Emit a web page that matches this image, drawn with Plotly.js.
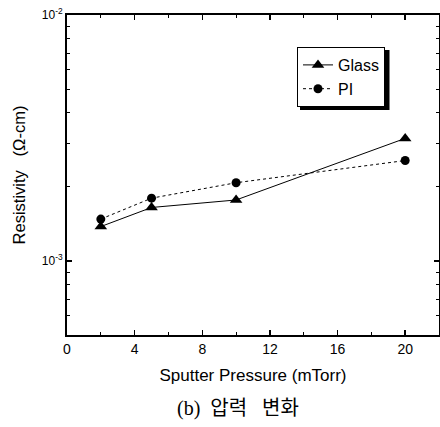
<!DOCTYPE html>
<html>
<head>
<meta charset="utf-8">
<script src="https://cdn.plot.ly/plotly-3.0.1.min.js"></script>
<style>html,body{margin:0;padding:0;background:#fff;}#chart{width:440px;height:427px;}</style>
</head>
<body>
<div id="chart"></div>
<script>
const pressure = [2, 5, 10, 20];
const glassResistivity = [1.38e-3, 1.65e-3, 1.77e-3, 3.15e-3];
const piResistivity = [1.48e-3, 1.80e-3, 2.08e-3, 2.56e-3];
const xTickVals = [0, 4, 8, 12, 16, 20];
const xMinorVals = [2, 6, 10, 14, 18];
const yTickVals = [1e-3, 1e-2];
const yTickText = ['10<sup>-3</sup>', '10<sup>-2</sup>'];
const yMinorVals = [5e-4, 6e-4, 7e-4, 8e-4, 9e-4, 2e-3, 3e-3, 4e-3, 5e-3, 6e-3, 7e-3, 8e-3, 9e-3];

const font = 'Liberation Sans, Arial, sans-serif';

const traces = [
  {x: pressure, y: glassResistivity, name: 'Glass', mode: 'lines+markers', type: 'scatter',
   line: {color: '#000', width: 1}, marker: {symbol: 'triangle-up', size: 11, color: '#000'}},
  {x: pressure, y: piResistivity, name: 'PI', mode: 'lines+markers', type: 'scatter',
   line: {color: '#000', width: 1, dash: '3px,3px'}, marker: {symbol: 'circle', size: 9, color: '#000'}}
];

const L = 67, R = 439, T = 15, B = 335;
const px = v => (v - L) / (R - L);
const py = v => (B - v) / (B - T);

const layout = {
  width: 440, height: 427,
  margin: {l: L, r: 440 - R, t: T, b: 427 - B},
  paper_bgcolor: '#fff', plot_bgcolor: '#fff',
  font: {family: font, color: '#000', size: 13},
  showlegend: true,
  legend: {x: px(297), y: py(47), xanchor: 'left', yanchor: 'top', bgcolor: '#fff',
    bordercolor: '#000', borderwidth: 1, font: {size: 16, family: font},
    tracegroupgap: 0, itemwidth: 30},
  xaxis: {range: [0, 22], tickmode: 'array', tickvals: xTickVals, ticks: 'inside', ticklen: 5,
    tickwidth: 1.5, tickcolor: '#000', showline: true, linecolor: '#000', linewidth: 2, mirror: 'ticks',
    showgrid: false, zeroline: false, tickfont: {size: 14, family: font},
    minor: {tickvals: xMinorVals, ticks: 'inside', ticklen: 3, tickcolor: '#000', tickwidth: 1},
    title: {text: 'Sputter Pressure (mTorr)', font: {size: 17, family: font}, standoff: 13}},
  yaxis: {type: 'log', range: [Math.log10(5e-4), -2], tickmode: 'array', tickvals: yTickVals, ticktext: yTickText,
    ticks: 'inside', ticklen: 5, tickwidth: 1.5, tickcolor: '#000', showline: true, linecolor: '#000', linewidth: 2,
    mirror: 'ticks', showgrid: false, zeroline: false, tickfont: {size: 12, family: font},
    minor: {tickvals: yMinorVals, ticks: 'inside', ticklen: 3, tickcolor: '#000', tickwidth: 1},
    title: {text: 'Resistivity&nbsp;&nbsp;&nbsp;(Ω-cm)', font: {size: 16.5, family: font}, standoff: 12}},
  shapes: [
    {type: 'rect', xref: 'paper', yref: 'paper', x0: px(300), x1: px(389.5), y0: py(110), y1: py(50),
     fillcolor: '#000', line: {width: 0}, layer: 'above'}
  ],
  annotations: [
    {text: '(b)&nbsp;&nbsp;압력&nbsp;&nbsp;&nbsp;변화', xref: 'paper', yref: 'paper', x: px(238), y: py(408), xanchor: 'center', yanchor: 'middle',
     showarrow: false, font: {size: 20, family: 'Liberation Serif, Noto Sans CJK KR, serif', color: '#000'}}
  ]
};

Plotly.newPlot('chart', traces, layout, {displayModeBar: false, staticPlot: true});
</script>
</body>
</html>
